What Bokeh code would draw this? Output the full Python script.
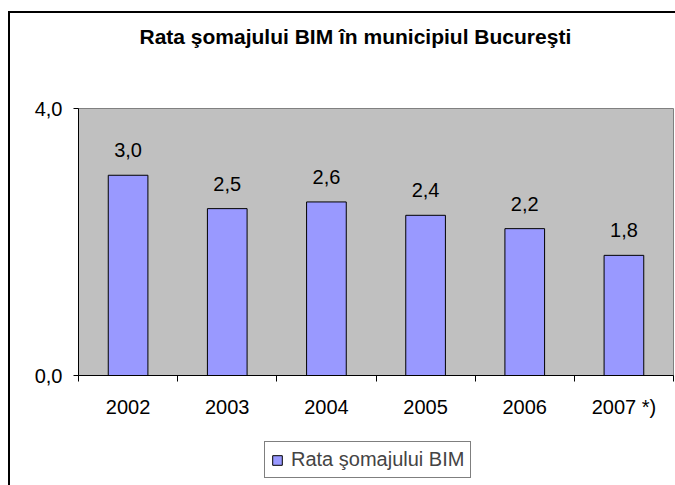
from bokeh.plotting import figure
from bokeh.layouts import column
from bokeh.models import (ColumnDataSource, FixedTicker, Range1d, Legend,
                          LegendItem, Title)
from bokeh.core.properties import value
from bokeh.embed import file_html
from bokeh.resources import INLINE

title_text = "Rata şomajului BIM în municipiul Bucureşti"
series_name = "Rata şomajului BIM"
categories = ["2002", "2003", "2004", "2005", "2006", "2007 *)"]
rates = [3.0, 2.5, 2.6, 2.4, 2.2, 1.8]
y_ticks = [0, 4]
y_tick_labels = ["0,0", "4,0"]

FONT = "Liberation Sans"
BAR_FILL = "#9999FF"

xs = [i + 0.5 for i in range(len(categories))]
src = ColumnDataSource(dict(x=xs, top=rates,
                            lbl=[f"{v:.1f}".replace(".", ",") for v in rates]))

p = figure(width=665, height=417, output_backend="svg", toolbar_location=None,
           title=None,
           x_range=Range1d(0, len(categories)), y_range=Range1d(0, 4),
           min_border_left=68, min_border_right=2, min_border_top=95,
           min_border_bottom=55)

p.background_fill_color = "#C0C0C0"
p.border_fill_color = "white"
p.outline_line_color = "#808080"
p.outline_line_width = 1
p.grid.visible = False

bars = p.vbar(x="x", top="top", width=0.4, source=src, fill_color=BAR_FILL,
              line_color="black", line_width=1)
p.text(x="x", y="top", text="lbl", source=src, y_offset=-25,
       text_align="center", text_baseline="middle", text_font=value(FONT),
       text_font_size="20px", text_color="black")

# axes
p.yaxis.ticker = FixedTicker(ticks=y_ticks)
p.yaxis.major_label_overrides = {t: l for t, l in zip(y_ticks, y_tick_labels)}
p.yaxis.major_tick_in = 0
p.yaxis.major_tick_out = 5
p.yaxis.minor_tick_line_color = None
p.yaxis.axis_line_color = "black"
p.yaxis.major_label_text_font = FONT
p.yaxis.major_label_text_font_size = "20px"
p.yaxis.major_label_text_color = "black"
p.yaxis.major_label_standoff = 11

p.xaxis.ticker = FixedTicker(ticks=xs, minor_ticks=list(range(len(categories) + 1)))
p.xaxis.major_label_overrides = {x: c for x, c in zip(xs, categories)}
p.xaxis.major_tick_line_color = None
p.xaxis.minor_tick_in = 0
p.xaxis.minor_tick_out = 6
p.xaxis.minor_tick_line_color = "black"
p.xaxis.axis_line_color = "black"
p.xaxis.major_label_text_font = FONT
p.xaxis.major_label_text_font_size = "20px"
p.xaxis.major_label_text_color = "black"
p.xaxis.major_label_standoff = 14

# title (spacer nearest the frame, then the title text)
p.add_layout(Title(text=" ", text_font_size="40px"), "above")
p.add_layout(Title(text=title_text, align="left", offset=61,
                   text_font=FONT, text_font_size="21px",
                   text_font_style="bold", text_color="black"), "above")

# legend strip below the chart (its key renderer sits outside the visible range)
q = figure(width=665, height=55, output_backend="svg", toolbar_location=None,
           title=None, x_axis_location=None, y_axis_location=None,
           x_range=Range1d(100, 101), y_range=Range1d(100, 101), min_border=0)
q.outline_line_color = None
q.background_fill_color = "white"
q.border_fill_color = "white"
q.grid.visible = False
key = q.vbar(x="x", top="top", width=0.4, source=src, fill_color=BAR_FILL,
             line_color="black", line_width=1)
legend = Legend(items=[LegendItem(label=series_name, renderers=[key])],
                location=(186, 7), orientation="horizontal",
                border_line_color="black", border_line_width=1,
                background_fill_color="white", background_fill_alpha=1,
                label_text_font=FONT, label_text_font_size="20px",
                glyph_width=12, glyph_height=12, padding=6, spacing=4,
                label_standoff=8, margin=0)
q.add_layout(legend, "center")

layout = column(p, q, spacing=0,
                styles={"border-left": "2px solid black",
                        "border-top": "2px solid black",
                        "margin-left": "8px", "margin-top": "11px"})

open("out.html", "w").write(file_html(layout, INLINE))
